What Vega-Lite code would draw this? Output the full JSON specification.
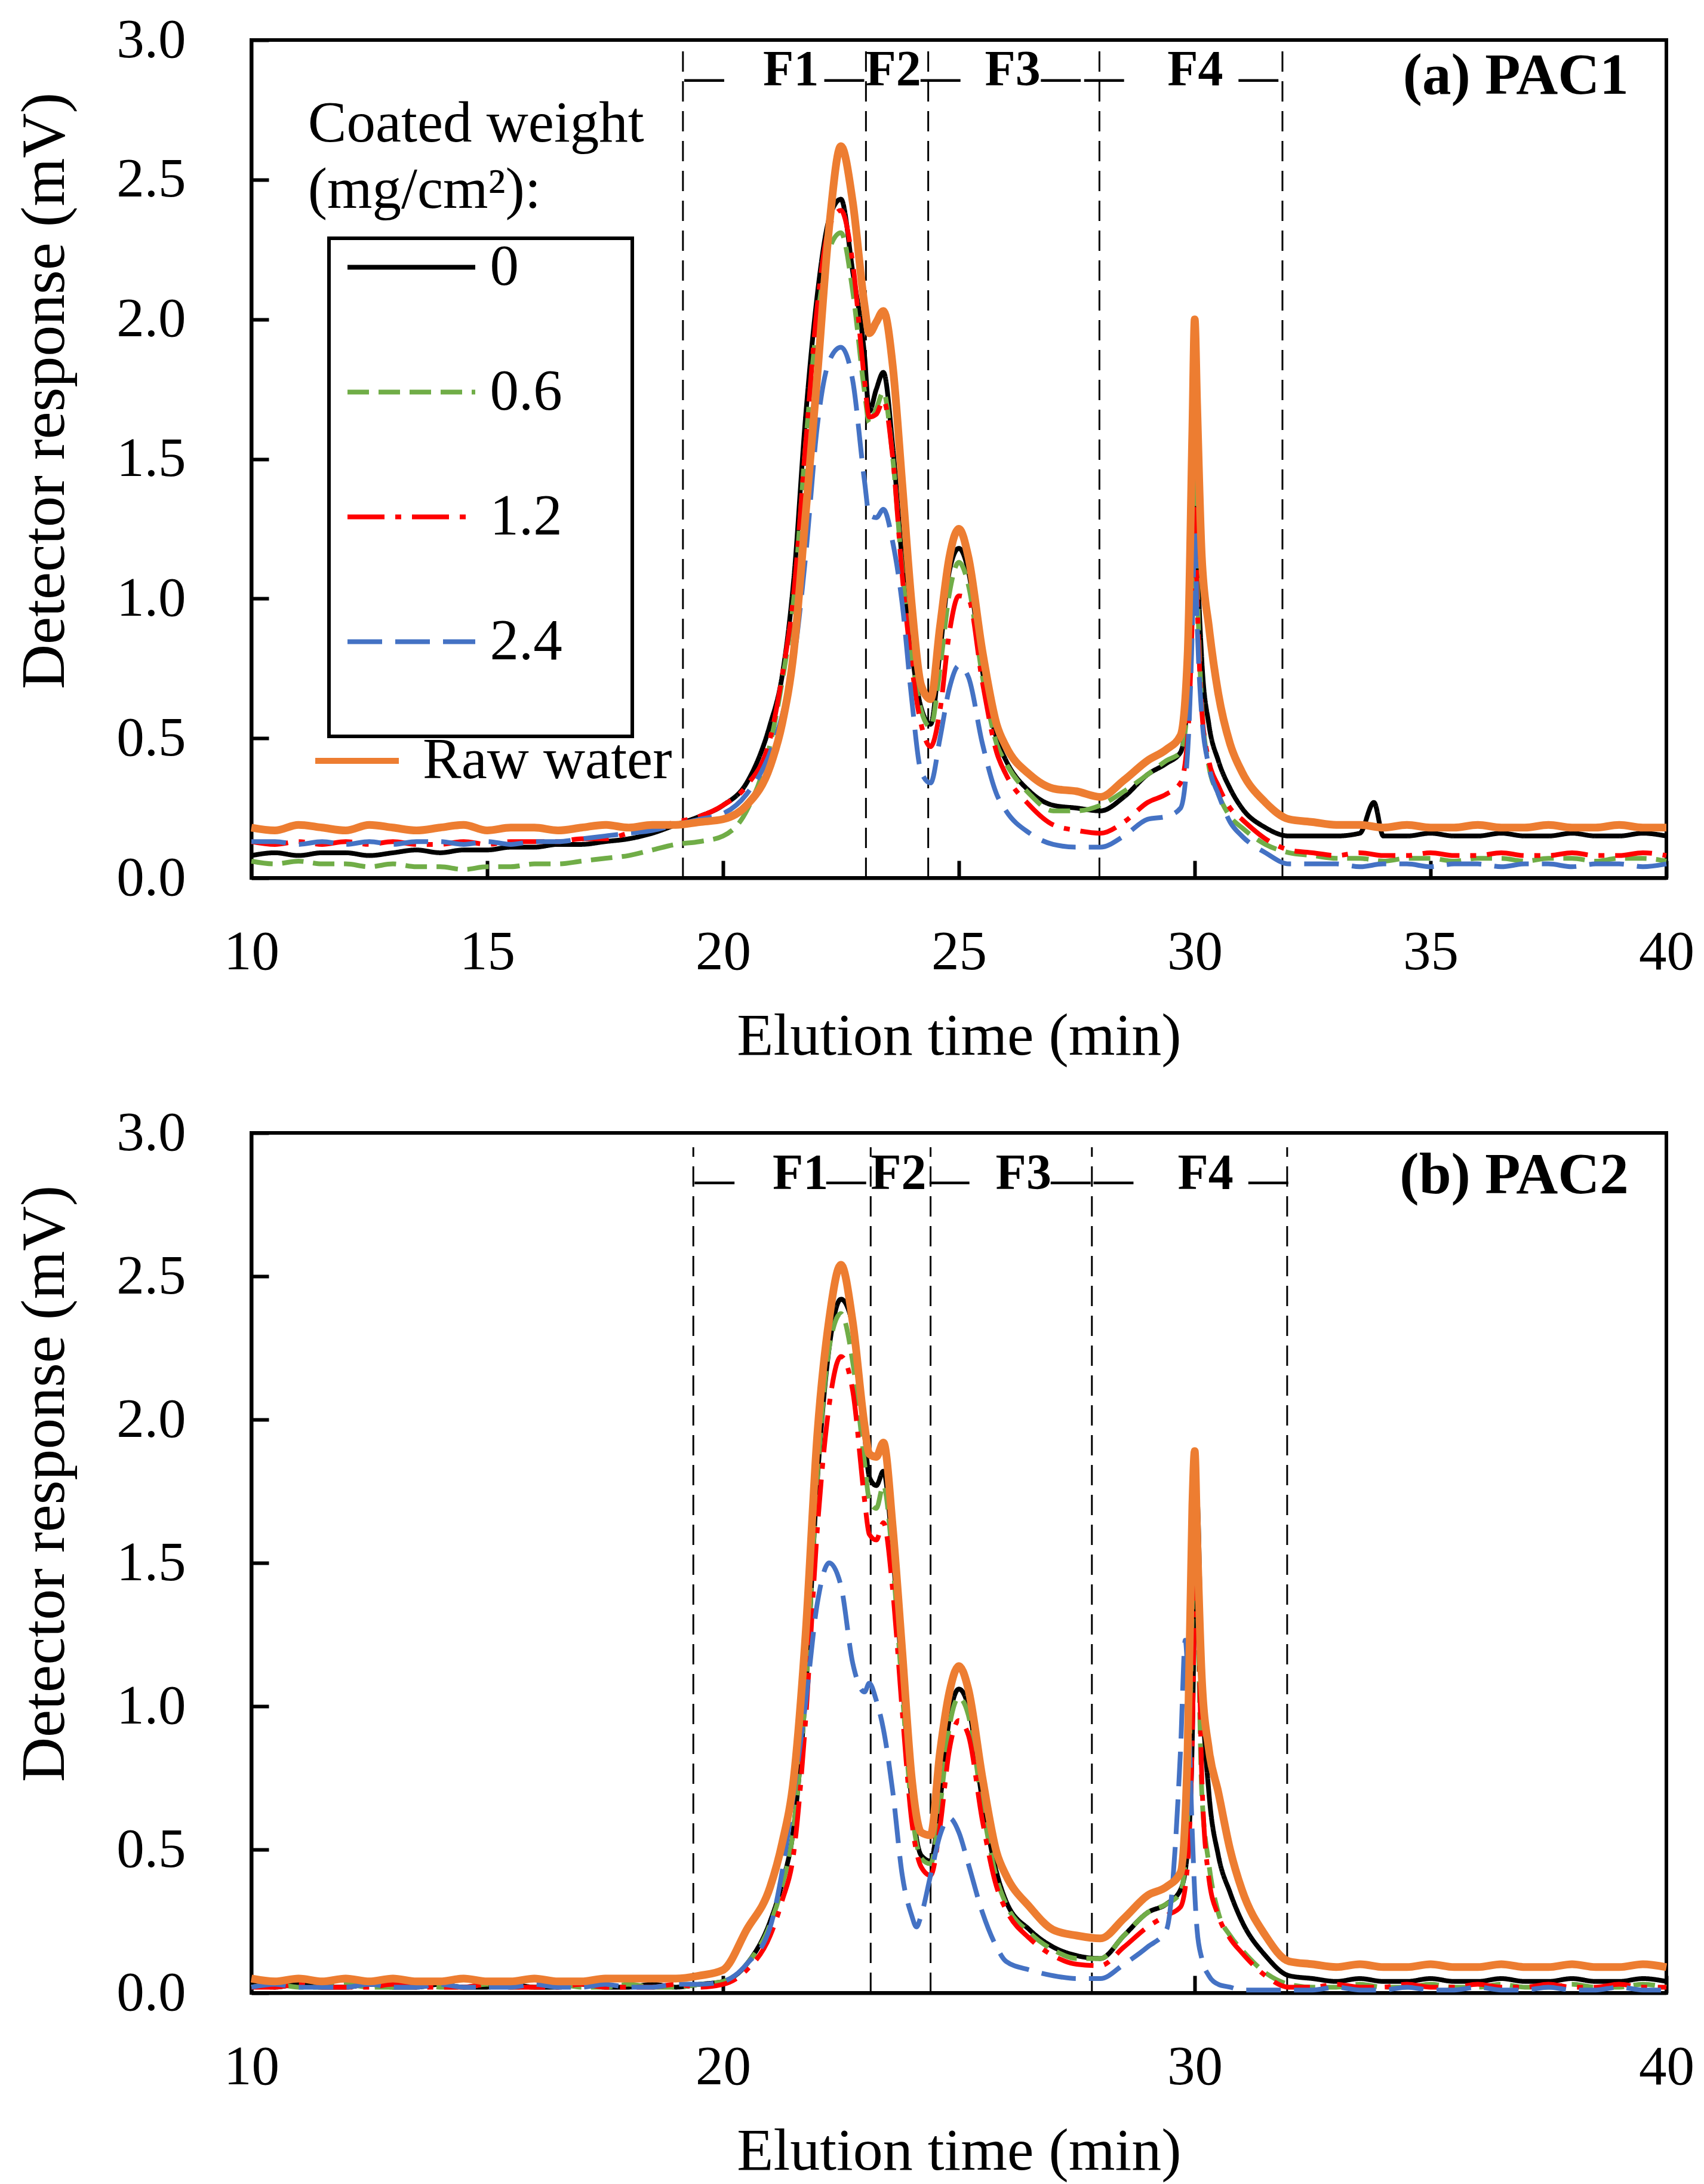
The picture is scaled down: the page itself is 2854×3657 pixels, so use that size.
{
  "$schema": "https://vega.github.io/schema/vega-lite/v6.json",
  "background": "white",
  "padding": {"left": 20, "top": 18, "right": 40, "bottom": 10},
  "spacing": 60,
  "datasets": {
    "pac1": [
      {"series":"Raw water","t":10,"mV":0.18},{"series":"Raw water","t":10.5,"mV":0.17},{"series":"Raw water","t":11,"mV":0.19},{"series":"Raw water","t":11.5,"mV":0.18},{"series":"Raw water","t":12,"mV":0.17},{"series":"Raw water","t":12.5,"mV":0.19},{"series":"Raw water","t":13,"mV":0.18},{"series":"Raw water","t":13.5,"mV":0.17},{"series":"Raw water","t":14,"mV":0.18},{"series":"Raw water","t":14.5,"mV":0.19},{"series":"Raw water","t":15,"mV":0.17},{"series":"Raw water","t":15.5,"mV":0.18},{"series":"Raw water","t":16,"mV":0.18},{"series":"Raw water","t":16.5,"mV":0.17},{"series":"Raw water","t":17,"mV":0.18},{"series":"Raw water","t":17.5,"mV":0.19},{"series":"Raw water","t":18,"mV":0.18},{"series":"Raw water","t":18.5,"mV":0.19},{"series":"Raw water","t":19,"mV":0.19},{"series":"Raw water","t":19.5,"mV":0.20},
      {"series":"Raw water","t":20,"mV":0.21},{"series":"Raw water","t":20.5,"mV":0.26},{"series":"Raw water","t":21,"mV":0.40},
      {"series":"Raw water","t":21.25,"mV":0.55},{"series":"Raw water","t":21.5,"mV":0.81},{"series":"Raw water","t":21.75,"mV":1.30},{"series":"Raw water","t":22,"mV":1.80},{"series":"Raw water","t":22.25,"mV":2.33},{"series":"Raw water","t":22.5,"mV":2.62},{"series":"Raw water","t":22.75,"mV":2.42},{"series":"Raw water","t":23,"mV":2.05},
      {"series":"Raw water","t":23.1,"mV":1.95},{"series":"Raw water","t":23.25,"mV":1.99},{"series":"Raw water","t":23.4,"mV":2.03},{"series":"Raw water","t":23.6,"mV":1.83},{"series":"Raw water","t":23.8,"mV":1.41},{"series":"Raw water","t":24,"mV":0.98},{"series":"Raw water","t":24.2,"mV":0.69},{"series":"Raw water","t":24.4,"mV":0.64},{"series":"Raw water","t":24.6,"mV":0.90},{"series":"Raw water","t":24.8,"mV":1.15},{"series":"Raw water","t":25,"mV":1.25},{"series":"Raw water","t":25.2,"mV":1.15},
      {"series":"Raw water","t":25.5,"mV":0.81},{"series":"Raw water","t":25.8,"mV":0.55},{"series":"Raw water","t":26,"mV":0.47},{"series":"Raw water","t":26.5,"mV":0.37},{"series":"Raw water","t":27,"mV":0.32},{"series":"Raw water","t":27.5,"mV":0.31},{"series":"Raw water","t":28,"mV":0.29},{"series":"Raw water","t":28.5,"mV":0.35},{"series":"Raw water","t":29,"mV":0.42},{"series":"Raw water","t":29.4,"mV":0.46},{"series":"Raw water","t":29.7,"mV":0.51},
      {"series":"Raw water","t":29.85,"mV":0.80},{"series":"Raw water","t":29.95,"mV":1.60},{"series":"Raw water","t":30,"mV":2.00},{"series":"Raw water","t":30.05,"mV":1.70},{"series":"Raw water","t":30.15,"mV":1.15},{"series":"Raw water","t":30.3,"mV":0.90},{"series":"Raw water","t":30.5,"mV":0.66},{"series":"Raw water","t":30.75,"mV":0.48},{"series":"Raw water","t":31,"mV":0.38},{"series":"Raw water","t":31.5,"mV":0.27},{"series":"Raw water","t":32,"mV":0.21},
      {"series":"Raw water","t":32.5,"mV":0.20},{"series":"Raw water","t":33,"mV":0.19},{"series":"Raw water","t":33.5,"mV":0.19},{"series":"Raw water","t":34,"mV":0.18},{"series":"Raw water","t":34.5,"mV":0.19},{"series":"Raw water","t":35,"mV":0.18},{"series":"Raw water","t":35.5,"mV":0.18},{"series":"Raw water","t":36,"mV":0.19},{"series":"Raw water","t":36.5,"mV":0.18},{"series":"Raw water","t":37,"mV":0.18},{"series":"Raw water","t":37.5,"mV":0.19},{"series":"Raw water","t":38,"mV":0.18},{"series":"Raw water","t":38.5,"mV":0.18},{"series":"Raw water","t":39,"mV":0.19},{"series":"Raw water","t":39.5,"mV":0.18},{"series":"Raw water","t":40,"mV":0.18},

      {"series":"0","t":10,"mV":0.08},{"series":"0","t":10.5,"mV":0.09},{"series":"0","t":11,"mV":0.08},{"series":"0","t":11.5,"mV":0.09},{"series":"0","t":12,"mV":0.09},{"series":"0","t":12.5,"mV":0.08},{"series":"0","t":13,"mV":0.09},{"series":"0","t":13.5,"mV":0.10},{"series":"0","t":14,"mV":0.09},{"series":"0","t":14.5,"mV":0.10},{"series":"0","t":15,"mV":0.10},{"series":"0","t":15.5,"mV":0.11},{"series":"0","t":16,"mV":0.11},{"series":"0","t":16.5,"mV":0.12},{"series":"0","t":17,"mV":0.12},{"series":"0","t":17.5,"mV":0.13},{"series":"0","t":18,"mV":0.14},{"series":"0","t":18.5,"mV":0.16},{"series":"0","t":19,"mV":0.19},{"series":"0","t":19.5,"mV":0.22},
      {"series":"0","t":20,"mV":0.26},{"series":"0","t":20.5,"mV":0.34},{"series":"0","t":21,"mV":0.55},
      {"series":"0","t":21.25,"mV":0.72},{"series":"0","t":21.5,"mV":1.07},{"series":"0","t":21.75,"mV":1.65},{"series":"0","t":22,"mV":2.09},{"series":"0","t":22.25,"mV":2.36},{"series":"0","t":22.5,"mV":2.43},{"series":"0","t":22.75,"mV":2.17},{"series":"0","t":23,"mV":1.87},
      {"series":"0","t":23.1,"mV":1.67},{"series":"0","t":23.25,"mV":1.75},{"series":"0","t":23.4,"mV":1.81},{"series":"0","t":23.6,"mV":1.54},{"series":"0","t":23.8,"mV":1.13},{"series":"0","t":24,"mV":0.81},{"series":"0","t":24.2,"mV":0.61},{"series":"0","t":24.4,"mV":0.55},{"series":"0","t":24.6,"mV":0.81},{"series":"0","t":24.8,"mV":1.10},{"series":"0","t":25,"mV":1.18},{"series":"0","t":25.2,"mV":1.10},
      {"series":"0","t":25.5,"mV":0.74},{"series":"0","t":25.8,"mV":0.50},{"series":"0","t":26,"mV":0.42},{"series":"0","t":26.5,"mV":0.31},{"series":"0","t":27,"mV":0.26},{"series":"0","t":27.5,"mV":0.25},{"series":"0","t":28,"mV":0.24},{"series":"0","t":28.5,"mV":0.29},{"series":"0","t":29,"mV":0.37},{"series":"0","t":29.4,"mV":0.41},{"series":"0","t":29.7,"mV":0.45},
      {"series":"0","t":29.85,"mV":0.65},{"series":"0","t":29.95,"mV":1.20},{"series":"0","t":30,"mV":1.57},{"series":"0","t":30.05,"mV":1.20},{"series":"0","t":30.15,"mV":0.78},{"series":"0","t":30.3,"mV":0.55},{"series":"0","t":30.5,"mV":0.42},{"series":"0","t":30.75,"mV":0.32},{"series":"0","t":31,"mV":0.25},{"series":"0","t":31.5,"mV":0.18},{"series":"0","t":32,"mV":0.15},
      {"series":"0","t":32.5,"mV":0.15},{"series":"0","t":33,"mV":0.15},{"series":"0","t":33.5,"mV":0.16},{"series":"0","t":33.8,"mV":0.27},{"series":"0","t":34,"mV":0.15},{"series":"0","t":34.5,"mV":0.15},{"series":"0","t":35,"mV":0.16},{"series":"0","t":35.5,"mV":0.15},{"series":"0","t":36,"mV":0.15},{"series":"0","t":36.5,"mV":0.16},{"series":"0","t":37,"mV":0.15},{"series":"0","t":37.5,"mV":0.15},{"series":"0","t":38,"mV":0.16},{"series":"0","t":38.5,"mV":0.15},{"series":"0","t":39,"mV":0.15},{"series":"0","t":39.5,"mV":0.16},{"series":"0","t":40,"mV":0.15},

      {"series":"0.6","t":10,"mV":0.06},{"series":"0.6","t":10.5,"mV":0.05},{"series":"0.6","t":11,"mV":0.06},{"series":"0.6","t":11.5,"mV":0.05},{"series":"0.6","t":12,"mV":0.05},{"series":"0.6","t":12.5,"mV":0.04},{"series":"0.6","t":13,"mV":0.05},{"series":"0.6","t":13.5,"mV":0.04},{"series":"0.6","t":14,"mV":0.04},{"series":"0.6","t":14.5,"mV":0.03},{"series":"0.6","t":15,"mV":0.04},{"series":"0.6","t":15.5,"mV":0.04},{"series":"0.6","t":16,"mV":0.05},{"series":"0.6","t":16.5,"mV":0.05},{"series":"0.6","t":17,"mV":0.06},{"series":"0.6","t":17.5,"mV":0.07},{"series":"0.6","t":18,"mV":0.08},{"series":"0.6","t":18.5,"mV":0.10},{"series":"0.6","t":19,"mV":0.12},{"series":"0.6","t":19.5,"mV":0.13},
      {"series":"0.6","t":20,"mV":0.15},{"series":"0.6","t":20.5,"mV":0.24},{"series":"0.6","t":21,"mV":0.48},
      {"series":"0.6","t":21.25,"mV":0.70},{"series":"0.6","t":21.5,"mV":1.00},{"series":"0.6","t":21.75,"mV":1.55},{"series":"0.6","t":22,"mV":2.00},{"series":"0.6","t":22.25,"mV":2.25},{"series":"0.6","t":22.5,"mV":2.31},{"series":"0.6","t":22.75,"mV":2.10},{"series":"0.6","t":23,"mV":1.74},
      {"series":"0.6","t":23.1,"mV":1.63},{"series":"0.6","t":23.25,"mV":1.68},{"series":"0.6","t":23.4,"mV":1.74},{"series":"0.6","t":23.6,"mV":1.50},{"series":"0.6","t":23.8,"mV":1.10},{"series":"0.6","t":24,"mV":0.80},{"series":"0.6","t":24.2,"mV":0.60},{"series":"0.6","t":24.4,"mV":0.54},{"series":"0.6","t":24.6,"mV":0.75},{"series":"0.6","t":24.8,"mV":1.02},{"series":"0.6","t":25,"mV":1.13},{"series":"0.6","t":25.2,"mV":1.05},
      {"series":"0.6","t":25.5,"mV":0.72},{"series":"0.6","t":25.8,"mV":0.48},{"series":"0.6","t":26,"mV":0.41},{"series":"0.6","t":26.5,"mV":0.30},{"series":"0.6","t":27,"mV":0.24},{"series":"0.6","t":27.5,"mV":0.24},{"series":"0.6","t":28,"mV":0.26},{"series":"0.6","t":28.5,"mV":0.31},{"series":"0.6","t":29,"mV":0.37},{"series":"0.6","t":29.4,"mV":0.42},{"series":"0.6","t":29.7,"mV":0.45},
      {"series":"0.6","t":29.85,"mV":0.62},{"series":"0.6","t":29.95,"mV":1.15},{"series":"0.6","t":30,"mV":1.55},{"series":"0.6","t":30.05,"mV":1.10},{"series":"0.6","t":30.15,"mV":0.62},{"series":"0.6","t":30.3,"mV":0.40},{"series":"0.6","t":30.5,"mV":0.30},{"series":"0.6","t":30.75,"mV":0.22},{"series":"0.6","t":31,"mV":0.18},{"series":"0.6","t":31.5,"mV":0.12},{"series":"0.6","t":32,"mV":0.09},
      {"series":"0.6","t":32.5,"mV":0.08},{"series":"0.6","t":33,"mV":0.07},{"series":"0.6","t":33.5,"mV":0.07},{"series":"0.6","t":34,"mV":0.06},{"series":"0.6","t":34.5,"mV":0.07},{"series":"0.6","t":35,"mV":0.07},{"series":"0.6","t":35.5,"mV":0.06},{"series":"0.6","t":36,"mV":0.07},{"series":"0.6","t":36.5,"mV":0.07},{"series":"0.6","t":37,"mV":0.06},{"series":"0.6","t":37.5,"mV":0.07},{"series":"0.6","t":38,"mV":0.07},{"series":"0.6","t":38.5,"mV":0.06},{"series":"0.6","t":39,"mV":0.07},{"series":"0.6","t":39.5,"mV":0.07},{"series":"0.6","t":40,"mV":0.06},

      {"series":"1.2","t":10,"mV":0.13},{"series":"1.2","t":10.5,"mV":0.12},{"series":"1.2","t":11,"mV":0.13},{"series":"1.2","t":11.5,"mV":0.12},{"series":"1.2","t":12,"mV":0.13},{"series":"1.2","t":12.5,"mV":0.12},{"series":"1.2","t":13,"mV":0.13},{"series":"1.2","t":13.5,"mV":0.12},{"series":"1.2","t":14,"mV":0.12},{"series":"1.2","t":14.5,"mV":0.13},{"series":"1.2","t":15,"mV":0.12},{"series":"1.2","t":15.5,"mV":0.13},{"series":"1.2","t":16,"mV":0.13},{"series":"1.2","t":16.5,"mV":0.13},{"series":"1.2","t":17,"mV":0.14},{"series":"1.2","t":17.5,"mV":0.14},{"series":"1.2","t":18,"mV":0.16},{"series":"1.2","t":18.5,"mV":0.18},{"series":"1.2","t":19,"mV":0.20},{"series":"1.2","t":19.5,"mV":0.22},
      {"series":"1.2","t":20,"mV":0.26},{"series":"1.2","t":20.5,"mV":0.33},{"series":"1.2","t":21,"mV":0.50},
      {"series":"1.2","t":21.25,"mV":0.72},{"series":"1.2","t":21.5,"mV":1.02},{"series":"1.2","t":21.75,"mV":1.55},{"series":"1.2","t":22,"mV":2.05},{"series":"1.2","t":22.25,"mV":2.33},{"series":"1.2","t":22.5,"mV":2.39},{"series":"1.2","t":22.75,"mV":2.20},{"series":"1.2","t":23,"mV":1.78},
      {"series":"1.2","t":23.1,"mV":1.65},{"series":"1.2","t":23.25,"mV":1.66},{"series":"1.2","t":23.4,"mV":1.71},{"series":"1.2","t":23.6,"mV":1.50},{"series":"1.2","t":23.8,"mV":1.08},{"series":"1.2","t":24,"mV":0.76},{"series":"1.2","t":24.2,"mV":0.55},{"series":"1.2","t":24.4,"mV":0.47},{"series":"1.2","t":24.6,"mV":0.60},{"series":"1.2","t":24.8,"mV":0.88},{"series":"1.2","t":25,"mV":1.01},{"series":"1.2","t":25.2,"mV":1.00},
      {"series":"1.2","t":25.5,"mV":0.70},{"series":"1.2","t":25.8,"mV":0.45},{"series":"1.2","t":26,"mV":0.37},{"series":"1.2","t":26.5,"mV":0.26},{"series":"1.2","t":27,"mV":0.19},{"series":"1.2","t":27.5,"mV":0.17},{"series":"1.2","t":28,"mV":0.16},{"series":"1.2","t":28.5,"mV":0.20},{"series":"1.2","t":29,"mV":0.27},{"series":"1.2","t":29.4,"mV":0.30},{"series":"1.2","t":29.7,"mV":0.34},
      {"series":"1.2","t":29.85,"mV":0.50},{"series":"1.2","t":29.95,"mV":0.95},{"series":"1.2","t":30,"mV":1.32},{"series":"1.2","t":30.05,"mV":1.00},{"series":"1.2","t":30.15,"mV":0.60},{"series":"1.2","t":30.3,"mV":0.42},{"series":"1.2","t":30.5,"mV":0.33},{"series":"1.2","t":30.75,"mV":0.25},{"series":"1.2","t":31,"mV":0.21},{"series":"1.2","t":31.5,"mV":0.14},{"series":"1.2","t":32,"mV":0.10},
      {"series":"1.2","t":32.5,"mV":0.09},{"series":"1.2","t":33,"mV":0.08},{"series":"1.2","t":33.5,"mV":0.09},{"series":"1.2","t":34,"mV":0.08},{"series":"1.2","t":34.5,"mV":0.08},{"series":"1.2","t":35,"mV":0.09},{"series":"1.2","t":35.5,"mV":0.08},{"series":"1.2","t":36,"mV":0.08},{"series":"1.2","t":36.5,"mV":0.09},{"series":"1.2","t":37,"mV":0.08},{"series":"1.2","t":37.5,"mV":0.08},{"series":"1.2","t":38,"mV":0.09},{"series":"1.2","t":38.5,"mV":0.08},{"series":"1.2","t":39,"mV":0.08},{"series":"1.2","t":39.5,"mV":0.09},{"series":"1.2","t":40,"mV":0.08},

      {"series":"2.4","t":10,"mV":0.13},{"series":"2.4","t":10.5,"mV":0.13},{"series":"2.4","t":11,"mV":0.12},{"series":"2.4","t":11.5,"mV":0.13},{"series":"2.4","t":12,"mV":0.12},{"series":"2.4","t":12.5,"mV":0.13},{"series":"2.4","t":13,"mV":0.12},{"series":"2.4","t":13.5,"mV":0.13},{"series":"2.4","t":14,"mV":0.13},{"series":"2.4","t":14.5,"mV":0.12},{"series":"2.4","t":15,"mV":0.13},{"series":"2.4","t":15.5,"mV":0.12},{"series":"2.4","t":16,"mV":0.13},{"series":"2.4","t":16.5,"mV":0.13},{"series":"2.4","t":17,"mV":0.14},{"series":"2.4","t":17.5,"mV":0.15},{"series":"2.4","t":18,"mV":0.16},{"series":"2.4","t":18.5,"mV":0.17},{"series":"2.4","t":19,"mV":0.19},{"series":"2.4","t":19.5,"mV":0.21},
      {"series":"2.4","t":20,"mV":0.23},{"series":"2.4","t":20.5,"mV":0.30},{"series":"2.4","t":21,"mV":0.45},
      {"series":"2.4","t":21.25,"mV":0.58},{"series":"2.4","t":21.5,"mV":0.78},{"series":"2.4","t":21.75,"mV":1.15},{"series":"2.4","t":22,"mV":1.62},{"series":"2.4","t":22.25,"mV":1.85},{"series":"2.4","t":22.5,"mV":1.90},{"series":"2.4","t":22.75,"mV":1.78},{"series":"2.4","t":23,"mV":1.42},
      {"series":"2.4","t":23.1,"mV":1.30},{"series":"2.4","t":23.25,"mV":1.29},{"series":"2.4","t":23.4,"mV":1.32},{"series":"2.4","t":23.6,"mV":1.20},{"series":"2.4","t":23.8,"mV":0.98},{"series":"2.4","t":24,"mV":0.64},{"series":"2.4","t":24.2,"mV":0.38},{"series":"2.4","t":24.4,"mV":0.34},{"series":"2.4","t":24.6,"mV":0.50},{"series":"2.4","t":24.8,"mV":0.68},{"series":"2.4","t":25,"mV":0.76},{"series":"2.4","t":25.2,"mV":0.72},
      {"series":"2.4","t":25.5,"mV":0.48},{"series":"2.4","t":25.8,"mV":0.30},{"series":"2.4","t":26,"mV":0.24},{"series":"2.4","t":26.5,"mV":0.16},{"series":"2.4","t":27,"mV":0.12},{"series":"2.4","t":27.5,"mV":0.11},{"series":"2.4","t":28,"mV":0.11},{"series":"2.4","t":28.5,"mV":0.15},{"series":"2.4","t":29,"mV":0.21},{"series":"2.4","t":29.4,"mV":0.22},{"series":"2.4","t":29.7,"mV":0.25},
      {"series":"2.4","t":29.85,"mV":0.45},{"series":"2.4","t":29.95,"mV":0.90},{"series":"2.4","t":30,"mV":1.24},{"series":"2.4","t":30.05,"mV":0.92},{"series":"2.4","t":30.15,"mV":0.58},{"series":"2.4","t":30.3,"mV":0.40},{"series":"2.4","t":30.5,"mV":0.30},{"series":"2.4","t":30.75,"mV":0.20},{"series":"2.4","t":31,"mV":0.15},{"series":"2.4","t":31.5,"mV":0.09},{"series":"2.4","t":32,"mV":0.05},
      {"series":"2.4","t":32.5,"mV":0.05},{"series":"2.4","t":33,"mV":0.05},{"series":"2.4","t":33.5,"mV":0.04},{"series":"2.4","t":34,"mV":0.05},{"series":"2.4","t":34.5,"mV":0.05},{"series":"2.4","t":35,"mV":0.04},{"series":"2.4","t":35.5,"mV":0.05},{"series":"2.4","t":36,"mV":0.05},{"series":"2.4","t":36.5,"mV":0.04},{"series":"2.4","t":37,"mV":0.05},{"series":"2.4","t":37.5,"mV":0.05},{"series":"2.4","t":38,"mV":0.04},{"series":"2.4","t":38.5,"mV":0.05},{"series":"2.4","t":39,"mV":0.05},{"series":"2.4","t":39.5,"mV":0.04},{"series":"2.4","t":40,"mV":0.05}
    ],
    "pac2": [
      {"series":"Raw water","t":10,"mV":0.05},{"series":"Raw water","t":10.5,"mV":0.04},{"series":"Raw water","t":11,"mV":0.05},{"series":"Raw water","t":11.5,"mV":0.04},{"series":"Raw water","t":12,"mV":0.05},{"series":"Raw water","t":12.5,"mV":0.04},{"series":"Raw water","t":13,"mV":0.05},{"series":"Raw water","t":13.5,"mV":0.04},{"series":"Raw water","t":14,"mV":0.04},{"series":"Raw water","t":14.5,"mV":0.05},{"series":"Raw water","t":15,"mV":0.04},{"series":"Raw water","t":15.5,"mV":0.04},{"series":"Raw water","t":16,"mV":0.05},{"series":"Raw water","t":16.5,"mV":0.04},{"series":"Raw water","t":17,"mV":0.04},{"series":"Raw water","t":17.5,"mV":0.05},{"series":"Raw water","t":18,"mV":0.05},{"series":"Raw water","t":18.5,"mV":0.05},{"series":"Raw water","t":19,"mV":0.05},{"series":"Raw water","t":19.5,"mV":0.06},
      {"series":"Raw water","t":20,"mV":0.08},{"series":"Raw water","t":20.5,"mV":0.22},{"series":"Raw water","t":21,"mV":0.37},
      {"series":"Raw water","t":21.25,"mV":0.52},{"series":"Raw water","t":21.5,"mV":0.75},{"series":"Raw water","t":21.75,"mV":1.25},{"series":"Raw water","t":22,"mV":1.95},{"series":"Raw water","t":22.25,"mV":2.35},{"series":"Raw water","t":22.5,"mV":2.54},{"series":"Raw water","t":22.75,"mV":2.34},{"series":"Raw water","t":23,"mV":1.98},
      {"series":"Raw water","t":23.1,"mV":1.88},{"series":"Raw water","t":23.25,"mV":1.87},{"series":"Raw water","t":23.4,"mV":1.92},{"series":"Raw water","t":23.6,"mV":1.62},{"series":"Raw water","t":23.8,"mV":1.19},{"series":"Raw water","t":24,"mV":0.75},{"series":"Raw water","t":24.2,"mV":0.56},{"series":"Raw water","t":24.4,"mV":0.55},{"series":"Raw water","t":24.6,"mV":0.84},{"series":"Raw water","t":24.8,"mV":1.05},{"series":"Raw water","t":25,"mV":1.14},{"series":"Raw water","t":25.2,"mV":1.06},
      {"series":"Raw water","t":25.5,"mV":0.75},{"series":"Raw water","t":25.8,"mV":0.49},{"series":"Raw water","t":26,"mV":0.41},{"series":"Raw water","t":26.5,"mV":0.30},{"series":"Raw water","t":27,"mV":0.22},{"series":"Raw water","t":27.5,"mV":0.20},{"series":"Raw water","t":28,"mV":0.19},{"series":"Raw water","t":28.5,"mV":0.26},{"series":"Raw water","t":29,"mV":0.34},{"series":"Raw water","t":29.4,"mV":0.37},{"series":"Raw water","t":29.7,"mV":0.42},
      {"series":"Raw water","t":29.85,"mV":0.85},{"series":"Raw water","t":29.95,"mV":1.70},{"series":"Raw water","t":30,"mV":1.89},{"series":"Raw water","t":30.05,"mV":1.60},{"series":"Raw water","t":30.15,"mV":1.10},{"series":"Raw water","t":30.3,"mV":0.85},{"series":"Raw water","t":30.5,"mV":0.70},{"series":"Raw water","t":30.75,"mV":0.50},{"series":"Raw water","t":31,"mV":0.36},{"series":"Raw water","t":31.5,"mV":0.20},{"series":"Raw water","t":32,"mV":0.11},
      {"series":"Raw water","t":32.5,"mV":0.10},{"series":"Raw water","t":33,"mV":0.09},{"series":"Raw water","t":33.5,"mV":0.10},{"series":"Raw water","t":34,"mV":0.09},{"series":"Raw water","t":34.5,"mV":0.09},{"series":"Raw water","t":35,"mV":0.10},{"series":"Raw water","t":35.5,"mV":0.09},{"series":"Raw water","t":36,"mV":0.09},{"series":"Raw water","t":36.5,"mV":0.10},{"series":"Raw water","t":37,"mV":0.09},{"series":"Raw water","t":37.5,"mV":0.09},{"series":"Raw water","t":38,"mV":0.10},{"series":"Raw water","t":38.5,"mV":0.09},{"series":"Raw water","t":39,"mV":0.09},{"series":"Raw water","t":39.5,"mV":0.10},{"series":"Raw water","t":40,"mV":0.09},

      {"series":"0","t":10,"mV":0.03},{"series":"0","t":10.5,"mV":0.02},{"series":"0","t":11,"mV":0.03},{"series":"0","t":11.5,"mV":0.02},{"series":"0","t":12,"mV":0.02},{"series":"0","t":12.5,"mV":0.03},{"series":"0","t":13,"mV":0.02},{"series":"0","t":13.5,"mV":0.02},{"series":"0","t":14,"mV":0.03},{"series":"0","t":14.5,"mV":0.02},{"series":"0","t":15,"mV":0.02},{"series":"0","t":15.5,"mV":0.03},{"series":"0","t":16,"mV":0.02},{"series":"0","t":16.5,"mV":0.02},{"series":"0","t":17,"mV":0.03},{"series":"0","t":17.5,"mV":0.02},{"series":"0","t":18,"mV":0.02},{"series":"0","t":18.5,"mV":0.03},{"series":"0","t":19,"mV":0.02},{"series":"0","t":19.5,"mV":0.03},
      {"series":"0","t":20,"mV":0.04},{"series":"0","t":20.5,"mV":0.10},{"series":"0","t":21,"mV":0.25},
      {"series":"0","t":21.25,"mV":0.38},{"series":"0","t":21.5,"mV":0.58},{"series":"0","t":21.75,"mV":1.05},{"series":"0","t":22,"mV":1.79},{"series":"0","t":22.25,"mV":2.25},{"series":"0","t":22.5,"mV":2.42},{"series":"0","t":22.75,"mV":2.33},{"series":"0","t":23,"mV":1.95},
      {"series":"0","t":23.1,"mV":1.80},{"series":"0","t":23.25,"mV":1.77},{"series":"0","t":23.4,"mV":1.82},{"series":"0","t":23.6,"mV":1.53},{"series":"0","t":23.8,"mV":1.10},{"series":"0","t":24,"mV":0.67},{"series":"0","t":24.2,"mV":0.48},{"series":"0","t":24.4,"mV":0.46},{"series":"0","t":24.6,"mV":0.67},{"series":"0","t":24.8,"mV":0.96},{"series":"0","t":25,"mV":1.06},{"series":"0","t":25.2,"mV":1.00},
      {"series":"0","t":25.5,"mV":0.67},{"series":"0","t":25.8,"mV":0.42},{"series":"0","t":26,"mV":0.32},{"series":"0","t":26.5,"mV":0.22},{"series":"0","t":27,"mV":0.16},{"series":"0","t":27.5,"mV":0.13},{"series":"0","t":28,"mV":0.12},{"series":"0","t":28.5,"mV":0.20},{"series":"0","t":29,"mV":0.28},{"series":"0","t":29.4,"mV":0.31},{"series":"0","t":29.7,"mV":0.36},
      {"series":"0","t":29.85,"mV":0.50},{"series":"0","t":29.95,"mV":0.90},{"series":"0","t":30,"mV":1.40},{"series":"0","t":30.05,"mV":1.72},{"series":"0","t":30.15,"mV":1.10},{"series":"0","t":30.3,"mV":0.70},{"series":"0","t":30.5,"mV":0.48},{"series":"0","t":30.75,"mV":0.35},{"series":"0","t":31,"mV":0.25},{"series":"0","t":31.5,"mV":0.13},{"series":"0","t":32,"mV":0.06},
      {"series":"0","t":32.5,"mV":0.05},{"series":"0","t":33,"mV":0.04},{"series":"0","t":33.5,"mV":0.05},{"series":"0","t":34,"mV":0.04},{"series":"0","t":34.5,"mV":0.04},{"series":"0","t":35,"mV":0.05},{"series":"0","t":35.5,"mV":0.04},{"series":"0","t":36,"mV":0.04},{"series":"0","t":36.5,"mV":0.05},{"series":"0","t":37,"mV":0.04},{"series":"0","t":37.5,"mV":0.04},{"series":"0","t":38,"mV":0.05},{"series":"0","t":38.5,"mV":0.04},{"series":"0","t":39,"mV":0.04},{"series":"0","t":39.5,"mV":0.05},{"series":"0","t":40,"mV":0.04},

      {"series":"0.6","t":10,"mV":0.02},{"series":"0.6","t":10.5,"mV":0.03},{"series":"0.6","t":11,"mV":0.02},{"series":"0.6","t":11.5,"mV":0.02},{"series":"0.6","t":12,"mV":0.03},{"series":"0.6","t":12.5,"mV":0.02},{"series":"0.6","t":13,"mV":0.02},{"series":"0.6","t":13.5,"mV":0.03},{"series":"0.6","t":14,"mV":0.02},{"series":"0.6","t":14.5,"mV":0.02},{"series":"0.6","t":15,"mV":0.03},{"series":"0.6","t":15.5,"mV":0.02},{"series":"0.6","t":16,"mV":0.02},{"series":"0.6","t":16.5,"mV":0.03},{"series":"0.6","t":17,"mV":0.02},{"series":"0.6","t":17.5,"mV":0.02},{"series":"0.6","t":18,"mV":0.03},{"series":"0.6","t":18.5,"mV":0.02},{"series":"0.6","t":19,"mV":0.02},{"series":"0.6","t":19.5,"mV":0.03},
      {"series":"0.6","t":20,"mV":0.04},{"series":"0.6","t":20.5,"mV":0.10},{"series":"0.6","t":21,"mV":0.24},
      {"series":"0.6","t":21.25,"mV":0.37},{"series":"0.6","t":21.5,"mV":0.58},{"series":"0.6","t":21.75,"mV":1.05},{"series":"0.6","t":22,"mV":1.80},{"series":"0.6","t":22.25,"mV":2.25},{"series":"0.6","t":22.5,"mV":2.37},{"series":"0.6","t":22.75,"mV":2.20},{"series":"0.6","t":23,"mV":1.85},
      {"series":"0.6","t":23.1,"mV":1.72},{"series":"0.6","t":23.25,"mV":1.69},{"series":"0.6","t":23.4,"mV":1.77},{"series":"0.6","t":23.6,"mV":1.50},{"series":"0.6","t":23.8,"mV":1.05},{"series":"0.6","t":24,"mV":0.64},{"series":"0.6","t":24.2,"mV":0.47},{"series":"0.6","t":24.4,"mV":0.45},{"series":"0.6","t":24.6,"mV":0.65},{"series":"0.6","t":24.8,"mV":0.93},{"series":"0.6","t":25,"mV":1.03},{"series":"0.6","t":25.2,"mV":0.97},
      {"series":"0.6","t":25.5,"mV":0.65},{"series":"0.6","t":25.8,"mV":0.40},{"series":"0.6","t":26,"mV":0.31},{"series":"0.6","t":26.5,"mV":0.21},{"series":"0.6","t":27,"mV":0.15},{"series":"0.6","t":27.5,"mV":0.12},{"series":"0.6","t":28,"mV":0.12},{"series":"0.6","t":28.5,"mV":0.20},{"series":"0.6","t":29,"mV":0.28},{"series":"0.6","t":29.4,"mV":0.31},{"series":"0.6","t":29.7,"mV":0.35},
      {"series":"0.6","t":29.85,"mV":0.60},{"series":"0.6","t":29.95,"mV":1.35},{"series":"0.6","t":30,"mV":1.70},{"series":"0.6","t":30.05,"mV":1.45},{"series":"0.6","t":30.15,"mV":0.70},{"series":"0.6","t":30.3,"mV":0.45},{"series":"0.6","t":30.5,"mV":0.28},{"series":"0.6","t":30.75,"mV":0.20},{"series":"0.6","t":31,"mV":0.15},{"series":"0.6","t":31.5,"mV":0.07},{"series":"0.6","t":32,"mV":0.03},
      {"series":"0.6","t":32.5,"mV":0.02},{"series":"0.6","t":33,"mV":0.02},{"series":"0.6","t":33.5,"mV":0.03},{"series":"0.6","t":34,"mV":0.02},{"series":"0.6","t":34.5,"mV":0.02},{"series":"0.6","t":35,"mV":0.03},{"series":"0.6","t":35.5,"mV":0.02},{"series":"0.6","t":36,"mV":0.02},{"series":"0.6","t":36.5,"mV":0.03},{"series":"0.6","t":37,"mV":0.02},{"series":"0.6","t":37.5,"mV":0.02},{"series":"0.6","t":38,"mV":0.03},{"series":"0.6","t":38.5,"mV":0.02},{"series":"0.6","t":39,"mV":0.02},{"series":"0.6","t":39.5,"mV":0.03},{"series":"0.6","t":40,"mV":0.02},

      {"series":"1.2","t":10,"mV":0.02},{"series":"1.2","t":10.5,"mV":0.02},{"series":"1.2","t":11,"mV":0.03},{"series":"1.2","t":11.5,"mV":0.02},{"series":"1.2","t":12,"mV":0.02},{"series":"1.2","t":12.5,"mV":0.02},{"series":"1.2","t":13,"mV":0.03},{"series":"1.2","t":13.5,"mV":0.02},{"series":"1.2","t":14,"mV":0.02},{"series":"1.2","t":14.5,"mV":0.02},{"series":"1.2","t":15,"mV":0.03},{"series":"1.2","t":15.5,"mV":0.02},{"series":"1.2","t":16,"mV":0.02},{"series":"1.2","t":16.5,"mV":0.02},{"series":"1.2","t":17,"mV":0.03},{"series":"1.2","t":17.5,"mV":0.02},{"series":"1.2","t":18,"mV":0.02},{"series":"1.2","t":18.5,"mV":0.02},{"series":"1.2","t":19,"mV":0.03},{"series":"1.2","t":19.5,"mV":0.02},
      {"series":"1.2","t":20,"mV":0.03},{"series":"1.2","t":20.5,"mV":0.08},{"series":"1.2","t":21,"mV":0.20},
      {"series":"1.2","t":21.25,"mV":0.32},{"series":"1.2","t":21.5,"mV":0.49},{"series":"1.2","t":21.75,"mV":0.95},{"series":"1.2","t":22,"mV":1.62},{"series":"1.2","t":22.25,"mV":2.05},{"series":"1.2","t":22.5,"mV":2.22},{"series":"1.2","t":22.75,"mV":2.10},{"series":"1.2","t":23,"mV":1.72},
      {"series":"1.2","t":23.1,"mV":1.60},{"series":"1.2","t":23.25,"mV":1.58},{"series":"1.2","t":23.4,"mV":1.64},{"series":"1.2","t":23.6,"mV":1.40},{"series":"1.2","t":23.8,"mV":0.98},{"series":"1.2","t":24,"mV":0.60},{"series":"1.2","t":24.2,"mV":0.44},{"series":"1.2","t":24.4,"mV":0.41},{"series":"1.2","t":24.6,"mV":0.58},{"series":"1.2","t":24.8,"mV":0.85},{"series":"1.2","t":25,"mV":0.95},{"series":"1.2","t":25.2,"mV":0.90},
      {"series":"1.2","t":25.5,"mV":0.60},{"series":"1.2","t":25.8,"mV":0.37},{"series":"1.2","t":26,"mV":0.29},{"series":"1.2","t":26.5,"mV":0.19},{"series":"1.2","t":27,"mV":0.13},{"series":"1.2","t":27.5,"mV":0.10},{"series":"1.2","t":28,"mV":0.095},{"series":"1.2","t":28.5,"mV":0.16},{"series":"1.2","t":29,"mV":0.23},{"series":"1.2","t":29.4,"mV":0.27},{"series":"1.2","t":29.7,"mV":0.30},
      {"series":"1.2","t":29.85,"mV":0.45},{"series":"1.2","t":29.95,"mV":0.90},{"series":"1.2","t":30,"mV":1.35},{"series":"1.2","t":30.05,"mV":1.45},{"series":"1.2","t":30.15,"mV":0.75},{"series":"1.2","t":30.3,"mV":0.40},{"series":"1.2","t":30.5,"mV":0.27},{"series":"1.2","t":30.75,"mV":0.19},{"series":"1.2","t":31,"mV":0.14},{"series":"1.2","t":31.5,"mV":0.06},{"series":"1.2","t":32,"mV":0.02},
      {"series":"1.2","t":32.5,"mV":0.02},{"series":"1.2","t":33,"mV":0.03},{"series":"1.2","t":33.5,"mV":0.02},{"series":"1.2","t":34,"mV":0.02},{"series":"1.2","t":34.5,"mV":0.03},{"series":"1.2","t":35,"mV":0.02},{"series":"1.2","t":35.5,"mV":0.02},{"series":"1.2","t":36,"mV":0.03},{"series":"1.2","t":36.5,"mV":0.02},{"series":"1.2","t":37,"mV":0.02},{"series":"1.2","t":37.5,"mV":0.03},{"series":"1.2","t":38,"mV":0.02},{"series":"1.2","t":38.5,"mV":0.02},{"series":"1.2","t":39,"mV":0.03},{"series":"1.2","t":39.5,"mV":0.02},{"series":"1.2","t":40,"mV":0.02},

      {"series":"2.4","t":10,"mV":0.02},{"series":"2.4","t":10.5,"mV":0.03},{"series":"2.4","t":11,"mV":0.02},{"series":"2.4","t":11.5,"mV":0.02},{"series":"2.4","t":12,"mV":0.02},{"series":"2.4","t":12.5,"mV":0.03},{"series":"2.4","t":13,"mV":0.02},{"series":"2.4","t":13.5,"mV":0.02},{"series":"2.4","t":14,"mV":0.03},{"series":"2.4","t":14.5,"mV":0.02},{"series":"2.4","t":15,"mV":0.02},{"series":"2.4","t":15.5,"mV":0.02},{"series":"2.4","t":16,"mV":0.03},{"series":"2.4","t":16.5,"mV":0.02},{"series":"2.4","t":17,"mV":0.02},{"series":"2.4","t":17.5,"mV":0.03},{"series":"2.4","t":18,"mV":0.02},{"series":"2.4","t":18.5,"mV":0.02},{"series":"2.4","t":19,"mV":0.03},{"series":"2.4","t":19.5,"mV":0.03},
      {"series":"2.4","t":20,"mV":0.04},{"series":"2.4","t":20.5,"mV":0.10},{"series":"2.4","t":21,"mV":0.23},
      {"series":"2.4","t":21.25,"mV":0.42},{"series":"2.4","t":21.5,"mV":0.70},{"series":"2.4","t":21.75,"mV":1.01},{"series":"2.4","t":22,"mV":1.36},{"series":"2.4","t":22.25,"mV":1.50},{"series":"2.4","t":22.5,"mV":1.42},{"series":"2.4","t":22.75,"mV":1.15},{"series":"2.4","t":23,"mV":1.05},
      {"series":"2.4","t":23.1,"mV":1.08},{"series":"2.4","t":23.25,"mV":1.02},{"series":"2.4","t":23.4,"mV":0.92},{"series":"2.4","t":23.6,"mV":0.70},{"series":"2.4","t":23.8,"mV":0.41},{"series":"2.4","t":24,"mV":0.27},{"series":"2.4","t":24.1,"mV":0.23},{"series":"2.4","t":24.2,"mV":0.27},{"series":"2.4","t":24.4,"mV":0.41},{"series":"2.4","t":24.6,"mV":0.55},{"series":"2.4","t":24.8,"mV":0.61},{"series":"2.4","t":25,"mV":0.56},{"series":"2.4","t":25.2,"mV":0.45},
      {"series":"2.4","t":25.5,"mV":0.28},{"series":"2.4","t":25.8,"mV":0.16},{"series":"2.4","t":26,"mV":0.11},{"series":"2.4","t":26.5,"mV":0.08},{"series":"2.4","t":27,"mV":0.06},{"series":"2.4","t":27.5,"mV":0.05},{"series":"2.4","t":28,"mV":0.05},{"series":"2.4","t":28.5,"mV":0.10},{"series":"2.4","t":29,"mV":0.16},{"series":"2.4","t":29.4,"mV":0.22},{"series":"2.4","t":29.7,"mV":0.85},
      {"series":"2.4","t":29.8,"mV":1.23},{"series":"2.4","t":29.95,"mV":0.55},{"series":"2.4","t":30,"mV":0.35},{"series":"2.4","t":30.05,"mV":0.22},{"series":"2.4","t":30.15,"mV":0.12},{"series":"2.4","t":30.3,"mV":0.06},{"series":"2.4","t":30.5,"mV":0.03},{"series":"2.4","t":30.75,"mV":0.02},{"series":"2.4","t":31,"mV":0.01},{"series":"2.4","t":31.5,"mV":0.01},{"series":"2.4","t":32,"mV":0.01},
      {"series":"2.4","t":32.5,"mV":0.01},{"series":"2.4","t":33,"mV":0.02},{"series":"2.4","t":33.5,"mV":0.01},{"series":"2.4","t":34,"mV":0.01},{"series":"2.4","t":34.5,"mV":0.02},{"series":"2.4","t":35,"mV":0.01},{"series":"2.4","t":35.5,"mV":0.01},{"series":"2.4","t":36,"mV":0.02},{"series":"2.4","t":36.5,"mV":0.01},{"series":"2.4","t":37,"mV":0.01},{"series":"2.4","t":37.5,"mV":0.02},{"series":"2.4","t":38,"mV":0.01},{"series":"2.4","t":38.5,"mV":0.01},{"series":"2.4","t":39,"mV":0.02},{"series":"2.4","t":39.5,"mV":0.01},{"series":"2.4","t":40,"mV":0.01}
    ],
    "cuts1": [{"t":19.15},{"t":23.03},{"t":24.35},{"t":27.98},{"t":31.86}],
    "cuts2": [{"t":19.37},{"t":23.13},{"t":24.4},{"t":27.82},{"t":31.96}],
    "frac1": [{"t":21.44,"label":"F1"},{"t":23.61,"label":"F2"},{"t":26.14,"label":"F3"},{"t":30.01,"label":"F4"}],
    "frac2": [{"t":21.64,"label":"F1"},{"t":23.72,"label":"F2"},{"t":26.37,"label":"F3"},{"t":30.23,"label":"F4"}],
    "dash1": [{"t":19.6},{"t":22.57},{"t":24.61},{"t":27.16},{"t":28.08},{"t":31.35}],
    "dash2": [{"t":19.82},{"t":22.61},{"t":24.8},{"t":27.37},{"t":28.28},{"t":31.56}]
  },
  "vconcat": [
    {
      "width": 2370,
      "height": 1403,
      "layer": [
        {
          "data": {"name": "cuts1"},
          "mark": {"type": "rule", "color": "black", "strokeWidth": 3, "strokeDash": [34, 16]},
          "encoding": {
            "x": {"field": "t", "type": "quantitative", "title": "Elution time (min)"},
            "y": {"datum": 0, "title": "Detector response (mV)"},
            "y2": {"datum": 2.96}
          }
        },
        {
          "data": {"name": "pac1"},
          "transform": [{"filter": "datum.series !== 'Raw water'"}],
          "mark": {"type": "line", "strokeWidth": 8, "interpolate": "monotone"},
          "encoding": {
            "x": {"field": "t", "type": "quantitative", "scale": {"domain": [10, 40], "nice": false, "zero": false},
                  "axis": {"values": [10, 15, 20, 25, 30, 35, 40], "format": ".0f"}, "title": "Elution time (min)"},
            "y": {"field": "mV", "type": "quantitative", "scale": {"domain": [0, 3], "nice": false},
                  "axis": {"values": [0, 0.5, 1, 1.5, 2, 2.5, 3], "format": ".1f"}, "title": "Detector response (mV)"},
            "color": {"field": "series", "type": "nominal",
              "scale": {"domain": ["0", "0.6", "1.2", "2.4"], "range": ["#000000", "#70ad47", "#ff0000", "#4472c4"]},
              "legend": {"title": null, "orient": "none", "legendX": 130, "legendY": 332, "strokeColor": "black", "padding": 0,
                "symbolType": "M-4,0H4M13.2,5.3", "symbolSize": 2862, "symbolStrokeWidth": 8, "symbolOffset": 89.5,
                "labelOffset": 83, "rowPadding": 1,
                "labelFont": "Liberation Serif", "labelFontSize": 97, "labelColor": "black", "labelLimit": 1000}},
            "strokeDash": {"field": "series", "type": "nominal",
              "scale": {"domain": ["0", "0.6", "1.2", "2.4"], "range": [[1, 0], [36, 16], [62, 18, 10, 18], [58, 22]]},
              "legend": {"title": null, "orient": "none", "legendX": 130, "legendY": 332, "strokeColor": "black", "padding": 0,
                "symbolType": "M-4,0H4M13.2,5.3", "symbolSize": 2862, "symbolStrokeWidth": 8, "symbolOffset": 89.5,
                "labelOffset": 83, "rowPadding": 1,
                "labelFont": "Liberation Serif", "labelFontSize": 97, "labelColor": "black", "labelLimit": 1000}}
          }
        },
        {
          "data": {"name": "pac1"},
          "transform": [{"filter": "datum.series === 'Raw water'"}],
          "mark": {"type": "line", "strokeWidth": 13, "interpolate": "monotone"},
          "encoding": {
            "x": {"field": "t", "type": "quantitative", "title": "Elution time (min)"},
            "y": {"field": "mV", "type": "quantitative", "title": "Detector response (mV)"},
            "stroke": {"field": "series", "type": "nominal", "scale": {"domain": ["Raw water"], "range": ["#ed7d31"]},
              "legend": {"title": null, "orient": "none", "legendX": 102, "legendY": 1132, "padding": 0,
                "symbolType": "stroke", "symbolSize": 19600, "symbolStrokeWidth": 10, "labelOffset": 35,
                "labelFont": "Liberation Serif", "labelFontSize": 97, "labelColor": "black", "labelLimit": 1000}}
          }
        },
        {
          "data": {"name": "frac1"},
          "mark": {"type": "text", "font": "Liberation Serif", "fontSize": 84, "fontWeight": "bold", "align": "center", "baseline": "middle", "color": "black"},
          "encoding": {
            "x": {"field": "t", "type": "quantitative", "title": "Elution time (min)"},
            "y": {"datum": 2.89, "title": "Detector response (mV)"},
            "text": {"field": "label"}
          }
        },
        {
          "data": {"name": "dash1"},
          "mark": {"type": "text", "font": "Liberation Serif", "fontSize": 66, "fontWeight": "bold", "align": "center", "baseline": "middle", "color": "black"},
          "encoding": {
            "x": {"field": "t", "type": "quantitative", "title": "Elution time (min)"},
            "y": {"datum": 2.865, "title": "Detector response (mV)"},
            "text": {"value": "—"}
          }
        },
        {
          "data": {"values": [{}]},
          "mark": {"type": "text", "font": "Liberation Serif", "fontSize": 97, "fontWeight": "bold", "align": "right", "baseline": "middle", "color": "black"},
          "encoding": {"x": {"datum": 39.2, "title": "Elution time (min)"}, "y": {"datum": 2.87, "title": "Detector response (mV)"}, "text": {"value": "(a) PAC1"}}
        },
        {
          "data": {"values": [{}]},
          "mark": {"type": "text", "font": "Liberation Serif", "fontSize": 97, "align": "left", "baseline": "alphabetic", "color": "black"},
          "encoding": {"x": {"datum": 11.2, "title": "Elution time (min)"}, "y": {"datum": 2.636, "title": "Detector response (mV)"}, "text": {"value": "Coated weight"}}
        },
        {
          "data": {"values": [{}]},
          "mark": {"type": "text", "font": "Liberation Serif", "fontSize": 97, "align": "left", "baseline": "alphabetic", "color": "black"},
          "encoding": {"x": {"datum": 11.2, "title": "Elution time (min)"}, "y": {"datum": 2.40, "title": "Detector response (mV)"}, "text": {"value": "(mg/cm²):"}}
        }
      ]
    },
    {
      "width": 2370,
      "height": 1440,
      "layer": [
        {
          "data": {"name": "cuts2"},
          "mark": {"type": "rule", "color": "black", "strokeWidth": 3, "strokeDash": [34, 16]},
          "encoding": {
            "x": {"field": "t", "type": "quantitative", "title": "Elution time (min)"},
            "y": {"datum": 0, "title": "Detector response (mV)"},
            "y2": {"datum": 2.95}
          }
        },
        {
          "data": {"name": "pac2"},
          "transform": [{"filter": "datum.series !== 'Raw water'"}],
          "mark": {"type": "line", "strokeWidth": 8, "interpolate": "monotone"},
          "encoding": {
            "x": {"field": "t", "type": "quantitative", "scale": {"domain": [10, 40], "nice": false, "zero": false},
                  "axis": {"values": [10, 20, 30, 40], "format": ".0f"}, "title": "Elution time (min)"},
            "y": {"field": "mV", "type": "quantitative", "scale": {"domain": [0, 3], "nice": false},
                  "axis": {"values": [0, 0.5, 1, 1.5, 2, 2.5, 3], "format": ".1f"}, "title": "Detector response (mV)"},
            "color": {"field": "series", "type": "nominal",
              "scale": {"domain": ["0", "0.6", "1.2", "2.4"], "range": ["#000000", "#70ad47", "#ff0000", "#4472c4"]}, "legend": null},
            "strokeDash": {"field": "series", "type": "nominal",
              "scale": {"domain": ["0", "0.6", "1.2", "2.4"], "range": [[1, 0], [36, 16], [62, 18, 10, 18], [58, 22]]}, "legend": null}
          }
        },
        {
          "data": {"name": "pac2"},
          "transform": [{"filter": "datum.series === 'Raw water'"}],
          "mark": {"type": "line", "strokeWidth": 13, "interpolate": "monotone"},
          "encoding": {
            "x": {"field": "t", "type": "quantitative", "title": "Elution time (min)"},
            "y": {"field": "mV", "type": "quantitative", "title": "Detector response (mV)"},
            "stroke": {"field": "series", "type": "nominal", "scale": {"domain": ["Raw water"], "range": ["#ed7d31"]}, "legend": null}
          }
        },
        {
          "data": {"name": "frac2"},
          "mark": {"type": "text", "font": "Liberation Serif", "fontSize": 84, "fontWeight": "bold", "align": "center", "baseline": "middle", "color": "black"},
          "encoding": {
            "x": {"field": "t", "type": "quantitative", "title": "Elution time (min)"},
            "y": {"datum": 2.856, "title": "Detector response (mV)"},
            "text": {"field": "label"}
          }
        },
        {
          "data": {"name": "dash2"},
          "mark": {"type": "text", "font": "Liberation Serif", "fontSize": 66, "fontWeight": "bold", "align": "center", "baseline": "middle", "color": "black"},
          "encoding": {
            "x": {"field": "t", "type": "quantitative", "title": "Elution time (min)"},
            "y": {"datum": 2.835, "title": "Detector response (mV)"},
            "text": {"value": "—"}
          }
        },
        {
          "data": {"values": [{}]},
          "mark": {"type": "text", "font": "Liberation Serif", "fontSize": 97, "fontWeight": "bold", "align": "right", "baseline": "middle", "color": "black"},
          "encoding": {"x": {"datum": 39.2, "title": "Elution time (min)"}, "y": {"datum": 2.85, "title": "Detector response (mV)"}, "text": {"value": "(b) PAC2"}}
        }
      ]
    }
  ],
  "resolve": {"scale": {"color": "independent", "stroke": "independent", "strokeDash": "independent"}},
  "config": {
    "font": "Liberation Serif",
    "view": {"stroke": "black", "strokeWidth": 6},
    "axis": {
      "grid": false, "domainColor": "black", "domainWidth": 6, "tickColor": "black", "tickWidth": 6, "tickSize": -29,
      "labelFont": "Liberation Serif", "labelFontSize": 93, "labelColor": "black", "labelOverlap": false, "labelFlush": false,
      "titleFont": "Liberation Serif", "titleFontSize": 100, "titleFontWeight": "normal", "titleColor": "black"
    },
    "axisX": {"labelPadding": 108, "titlePadding": 45, "labelAngle": 0},
    "axisY": {"labelPadding": 139, "titleX": -346, "titleY": 587, "titleBaseline": "middle", "titleFontSize": 104},
    "legend": {"labelFont": "Liberation Serif", "labelFontSize": 97, "labelColor": "black", "strokeWidth": 6}
  }
}
